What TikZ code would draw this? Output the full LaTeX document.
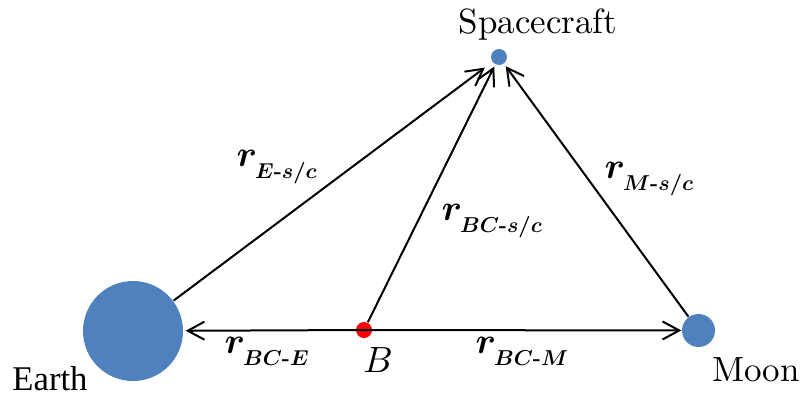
\documentclass[tikz,border=0pt]{standalone}
\usepackage{amsmath}
\usepackage{bm}
\usepackage{graphicx}
\usepackage{fontspec}
\usetikzlibrary{arrows.meta}
\newfontfamily\timesfont{Liberation Serif}
\definecolor{bodyblue}{HTML}{4F81BD}
\newcommand{\hy}{\text{\bfseries -}}
\newcommand{\vlab}[1]{$\bm{r}$\kern-0.6pt\raisebox{-3.6pt}{\scalebox{0.59}{$#1$}}}
\begin{document}
\begin{tikzpicture}[x=0.3pt,y=-0.3pt,
  body/.style={circle,fill=bodyblue,inner sep=0pt,draw=none},
  vec/.style={line width=0.6pt,-{Straight Barb[length=5pt,width=5.4pt]}},
  lbl/.style={inner sep=0pt,font=\fontsize{10.5}{12}\selectfont},
  vlbl/.style={inner sep=0pt,anchor=base west,font=\fontsize{11}{13}\selectfont}]
\useasboundingbox (0,0) rectangle (802,394);
\node[body,minimum size=100*0.3pt] (E) at (133,331) {};
\node[body,minimum size=33*0.3pt] (M) at (698.5,330.5) {};
\node[body,minimum size=16*0.3pt] (S) at (499,57) {};
\node[circle,fill=red,inner sep=0pt,minimum size=16*0.3pt] (B) at (364,330) {};
\draw[vec,shorten >=2.7pt] (E) -- (S);
\draw[vec,shorten >=0.6pt] (B) -- (S);
\draw[vec,shorten >=0.8pt] (M) -- (S);
\draw[vec,shorten >=0.6pt] (B.center) -- (E);
\draw[vec] (B.center) -- (M);
\node[lbl] (lS) at (538,25) {Spacecraft};
\node[lbl,font=\fontsize{10.4}{12}\timesfont] (lE) at (50,379) {Earth};
\node[lbl] (lM) at (756,370) {Moon};
\node[lbl] (lB) at (378,360) {$B$};
\node[vlbl] (rES) at (236,166) {\vlab{\bm{E}\hy\bm{s/c}}};
\node[vlbl] (rBS) at (441,220) {\vlab{\bm{BC}\hy\bm{s/c}}};
\node[vlbl] (rMS) at (604,178) {\vlab{\bm{M}\hy\bm{s/c}}};
\node[vlbl] (rBE) at (224,353) {\vlab{\bm{BC}\hy\bm{E}}};
\node[vlbl] (rBM) at (475,353) {\vlab{\bm{BC}\hy\bm{M}}};
\end{tikzpicture}
\end{document}
